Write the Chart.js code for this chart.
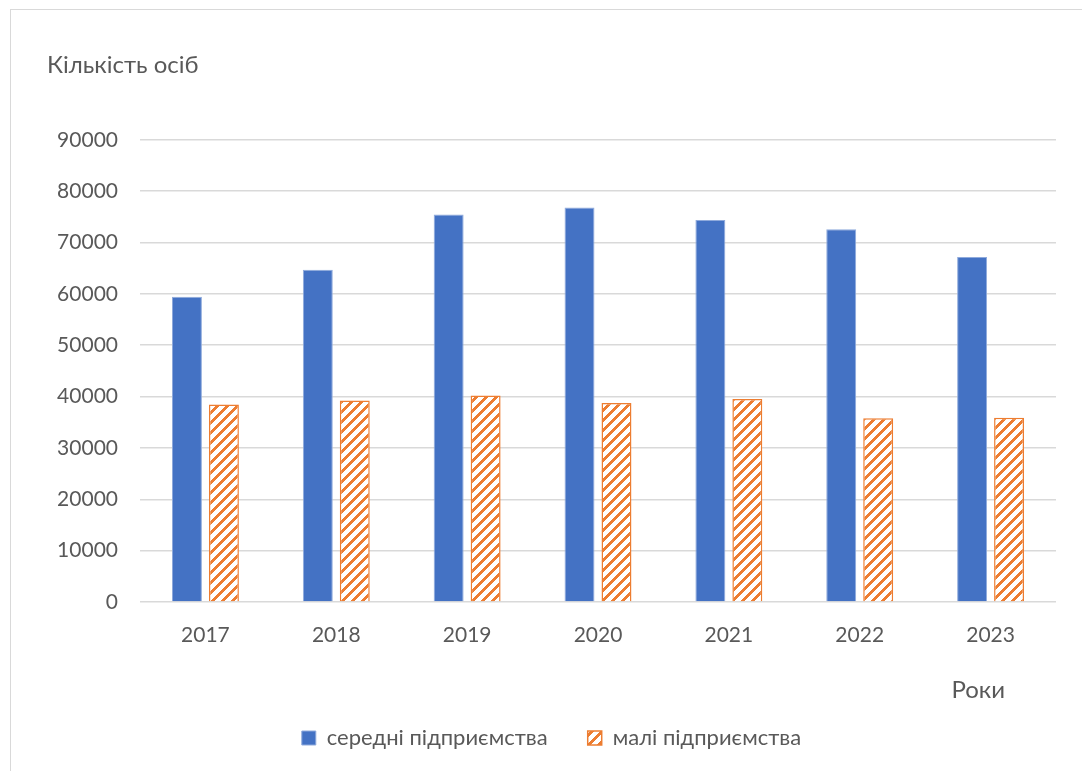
<!DOCTYPE html>
<html>
<head>
<meta charset="utf-8">
<script src="https://cdn.jsdelivr.net/npm/chart.js@4"></script>
<style>
  body { margin: 0; background: #fff; overflow: hidden; }
  #wrap { position: absolute; left: 10px; top: 9px; width: 1080px; height: 800px; border: 1px solid #d9d9d9; }
  canvas { display: block; }
</style>
</head>
<body>
<div id="wrap"><canvas id="grafik" width="1071" height="761"></canvas></div>
<script>
const roky = ['2017', '2018', '2019', '2020', '2021', '2022', '2023'];
const seredni = [59450, 64700, 75450, 76800, 74400, 72600, 67200];
const mali = [38450, 39250, 40200, 38750, 39550, 35800, 35900];

const FONT = 'Lato, "Open Sans", sans-serif';
const GRAY = '#595959';

// smuhastyi vizerunok dlia malykh pidpryiemstv
function smuhy() {
  const c = document.createElement('canvas');
  c.width = 10; c.height = 10;
  const g = c.getContext('2d');
  g.fillStyle = '#fff';
  g.fillRect(0, 0, 10, 10);
  g.fillStyle = '#ED7D31';
  for (let x = 0; x < 10; x++) {
    for (let y = 0; y < 10; y++) {
      if ((x + y) % 10 < 4) g.fillRect(x, y, 1, 1);
    }
  }
  return g.createPattern(c, 'repeat');
}

const rokyLabel = {
  id: 'rokyLabel',
  afterDraw(chart) {
    const { ctx, chartArea } = chart;
    ctx.save();
    ctx.font = '24px ' + FONT;
    ctx.fillStyle = GRAY;
    ctx.textAlign = 'right';
    ctx.textBaseline = 'middle';
    ctx.fillText('Роки', chartArea.right - 51, chartArea.bottom + 88);
    ctx.restore();
  }
};

const ctx = document.getElementById('grafik');

new Chart(ctx, {
  type: 'bar',
  data: {
    labels: roky,
    datasets: [{
      label: 'середні підприємства',
      data: seredni,
      backgroundColor: '#4472C4',
      borderColor: '#8FAADC',
      borderWidth: 1,
      categoryPercentage: 0.565,
      barPercentage: 0.81
    }, {
      label: 'малі підприємства',
      data: mali,
      backgroundColor: smuhy(),
      borderColor: '#ED7D31',
      borderWidth: 1.5,
      categoryPercentage: 0.565,
      barPercentage: 0.81
    }]
  },
  options: {
    responsive: false,
    animation: false,
    layout: { padding: { top: 0, left: 36, right: 26, bottom: 12 } },
    scales: {
      x: {
        grid: { display: false },
        border: { display: false },
        ticks: { color: GRAY, font: { family: FONT, size: 21 }, padding: 13 },
        afterFit(scale) { scale.height = 85; }
      },
      y: {
        min: 0,
        max: 90000,
        border: { display: false },
        grid: { color: '#d9d9d9', lineWidth: 1.5, drawTicks: false },
        ticks: {
          stepSize: 10000,
          color: GRAY,
          font: { family: FONT, size: 21 },
          padding: 22,
          callback: (v) => String(v)
        },
        afterFit(scale) { scale.width = 93; }
      }
    },
    plugins: {
      title: {
        display: true,
        text: 'Кількість осіб',
        align: 'start',
        color: GRAY,
        font: { family: FONT, size: 24, weight: 'normal' },
        padding: { top: 41, bottom: 60 }
      },
      legend: {
        position: 'bottom',
        labels: {
          color: GRAY,
          font: { family: FONT, size: 22 },
          boxWidth: 14,
          boxHeight: 14,
          padding: 40
        }
      },
      tooltip: { enabled: false }
    }
  },
  plugins: [rokyLabel]
});
</script>
</body>
</html>
